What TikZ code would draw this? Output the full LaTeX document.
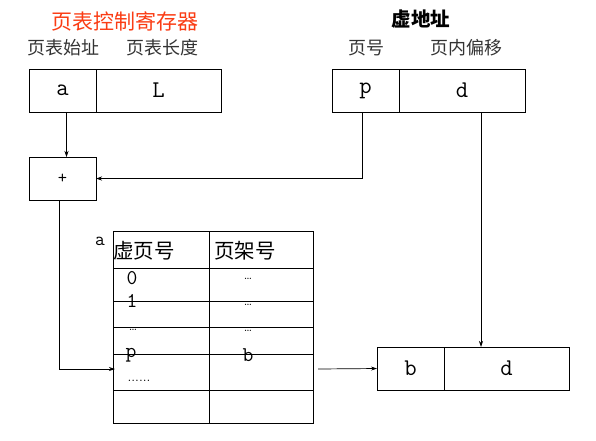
\documentclass[tikz,border=0pt]{standalone}
\usepackage{fontspec}
\newfontfamily\cjk{Noto Sans CJK SC}
\usetikzlibrary{arrows.meta,positioning}
\definecolor{titlered}{RGB}{250,60,20}
\tikzset{
  cell/.style={draw,line width=0.8pt,inner sep=0pt,outer sep=0pt,
    minimum height=43pt,font=\ttfamily\fontsize{24}{24}\selectfont},
  lbl/.style={font=\cjk\fontsize{18}{18}\selectfont,text=black!80},
  tbl/.style={font=\ttfamily\fontsize{21}{21}\selectfont},
  dots/.style={font=\fontsize{13}{13}\selectfont},
  arr/.style={line width=0.7pt,-{Stealth[length=6pt,width=4pt]}}
}
\begin{document}
\begin{tikzpicture}[x=1pt,y=-1pt]
\useasboundingbox (0,0) rectangle (596,440);
% page table register
\node [font=\cjk\fontsize{21}{21}\selectfont,text=titlered] (regtitle) at (125,21) {页表控制寄存器};
\node [lbl] (regbase) at (63,48) {页表始址};
\node [lbl] (reglen) at (162.5,48) {页表长度};
\node [cell,minimum width=67pt] (rega) at (62.5,90.5) {a};
\node [cell,minimum width=125pt,right=0pt of rega] (regl) {L};
% virtual address
\node [font=\cjk\bfseries\fontsize{19.5}{19.5}\selectfont] (vatitle) at (421,19) {虚地址};
\node [lbl] (vapage) at (366,48) {页号};
\node [lbl] (vaoff) at (466,48) {页内偏移};
\node [cell,minimum width=67pt] (vap) at (365.5,90.5) {p};
\node [cell,minimum width=126pt,right=0pt of vap] (vad) {d};
% adder
\node [cell,minimum width=67pt,font=\ttfamily\fontsize{18}{18}\selectfont] (plus) at (62.5,178.5) {+};
% page table
\node [draw,line width=0.8pt,inner sep=0pt,outer sep=0pt,minimum width=200pt,minimum height=192pt] (ptab) at (213,327) {};
\draw [line width=0.8pt] (209,231) -- (209,423);
\foreach \y in {268.5,301.5,327.5,354.5,390}
  \draw [line width=0.8pt] (113,\y) -- (313,\y);
\node [font=\ttfamily\fontsize{19}{19}\selectfont] (ptaddr) at (100,241) {a};
\node [font=\cjk\fontsize{20.5}{20.5}\selectfont,anchor=west,inner sep=0pt] (hvpage) at (113,251) {虚页号};
\node [font=\cjk\fontsize{20.5}{20.5}\selectfont] (hframe) at (245,251) {页架号};
\node [tbl] (r0) at (132,278) {0};
\node [tbl] (r1) at (132,301) {1};
\node [dots] (rdots) at (133,330) {\ldots};
\node [tbl] (rp) at (131,355) {p};
\node [font=\fontsize{14}{14}\selectfont] (rmore) at (139,381) {......};
\node [dots] (f0) at (248,279) {\ldots};
\node [dots] (f1) at (248,305) {\ldots};
\node [dots] (f2) at (248,331) {\ldots};
\node [tbl] (fb) at (248,355) {b};
% physical address
\node [cell,minimum width=67pt] (pab) at (410.5,368.5) {b};
\node [cell,minimum width=125pt,right=0pt of pab] (pad) {d};
% connectors
\draw [arr] ([xshift=4pt]rega.south) -- ([xshift=4pt]plus.north);
\draw [arr] ([xshift=-3pt]vap.south) |- (plus.east);
\coordinate (tin) at (115,369);
\coordinate (tout) at (318,369);
\draw [arr] ([xshift=-3pt]plus.south) |- (tin);
\draw [arr] (tout) -- (pab.west);
\draw [arr] ([xshift=19pt]vad.south) -- ([xshift=19pt]vad.south |- pad.north);
\end{tikzpicture}
\end{document}
